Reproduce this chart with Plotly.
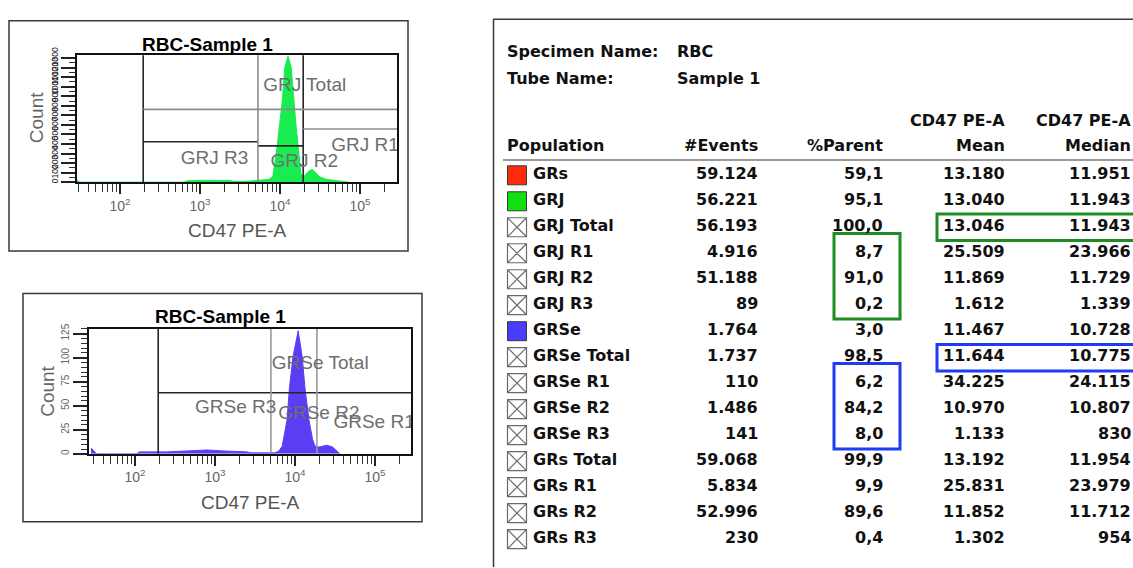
import numpy as np
import plotly.graph_objects as go

W, H = 1133, 568

# ---------------- histogram data (log10 CD47 PE-A vs. count) ----------------
grj_log = [1.45, 1.47, 1.50, 2.80, 2.84, 3.00, 3.15, 3.30, 3.37, 3.42, 3.55, 3.70,
           3.78, 3.86, 3.91, 3.96, 4.00, 4.03, 4.06, 4.10, 4.14, 4.17, 4.20, 4.23,
           4.26, 4.30, 4.35, 4.40, 4.45, 4.50, 4.58, 4.68, 4.80, 4.86]
grj_count = [25, 15, 0, 0, 15, 20, 18, 20, 18, 8, 6, 18,
             25, 30, 60, 350, 640, 865, 1205, 1320, 1205, 865, 600, 350,
             90, 60, 110, 135, 100, 55, 30, 18, 10, 0]

grse_log = [1.45, 1.48, 1.52, 2.02, 2.05, 2.40, 2.70, 2.90, 3.10, 3.40, 3.45, 3.60,
            3.75, 3.80, 3.84, 3.90, 3.93, 3.975, 4.04, 4.09, 4.125, 4.175, 4.22,
            4.25, 4.30, 4.35, 4.40, 4.47, 4.52, 4.56]
grse_count = [6, 3, 0, 0, 2, 2, 3, 4, 3, 2, 1, 1,
              1, 3, 8, 35, 68, 101, 128, 101, 68, 35, 15,
              8, 7, 8, 9, 7, 3, 0]

# gate boundaries on CD47 PE-A and gate heights (count)
grj_gate_x = [195, 5300, 19500]
grj_gate_h = {"GRJ Total": 763, "GRJ R3": 423, "GRJ R2": 381, "GRJ R1": 557}
grse_gate_x = [195, 5000, 18800]
grse_gate_h = 63.5

# ---------------- statistics table ----------------
populations = ["GRs", "GRJ", "GRJ Total", "GRJ R1", "GRJ R2", "GRJ R3", "GRSe",
               "GRSe Total", "GRSe R1", "GRSe R2", "GRSe R3", "GRs Total",
               "GRs R1", "GRs R2", "GRs R3"]
events = [59124, 56221, 56193, 4916, 51188, 89, 1764, 1737, 110, 1486, 141,
          59068, 5834, 52996, 230]
pct_parent = [59.1, 95.1, 100.0, 8.7, 91.0, 0.2, 3.0, 98.5, 6.2, 84.2, 8.0,
              99.9, 9.9, 89.6, 0.4]
cd47_mean = [13180, 13040, 13046, 25509, 11869, 1612, 11467, 11644, 34225,
             10970, 1133, 13192, 25831, 11852, 1302]
cd47_median = [11951, 11943, 11943, 23966, 11729, 1339, 10728, 10775, 24115,
               10807, 830, 11954, 23979, 11712, 954]
icon_kind = ["red", "green", "x", "x", "x", "x", "blue", "x", "x", "x", "x",
             "x", "x", "x", "x"]

GREEN = "#19ec4f"
BLUE = "#5b3df4"
ICON_COL = {"red": "#ff2a0a", "green": "#10e010", "blue": "#4a3cff"}
LABEL_GRAY = "#6e6e6e"
FONT = "Liberation Sans"
TFONT = "DejaVu Sans"


def px(x):
    return x / W


def py(y):
    return 1 - y / H


def eu_int(v):
    return f"{v:,}".replace(",", ".")


def eu_pct(v):
    return f"{v:.1f}".replace(".", ",")


fig = go.Figure()

# ---------------- histograms ----------------
fig.add_trace(go.Scatter(x=10 ** np.array(grj_log), y=grj_count, xaxis="x", yaxis="y",
                         mode="lines", fill="tozeroy", fillcolor=GREEN,
                         line=dict(color=GREEN, width=1), hoverinfo="skip", showlegend=False))
fig.add_trace(go.Scatter(x=10 ** np.array(grse_log), y=grse_count, xaxis="x2", yaxis="y2",
                         mode="lines", fill="tozeroy", fillcolor=BLUE,
                         line=dict(color=BLUE, width=1), hoverinfo="skip", showlegend=False))

XR = 10 ** 5.8  # beyond right edge, clipped by the plot area


def seg_trace(xs, ys, color, width, xa, ya):
    return go.Scatter(x=xs, y=ys, xaxis=xa, yaxis=ya, mode="lines",
                      line=dict(color=color, width=width), hoverinfo="skip", showlegend=False)


# GRJ gates
g0, g1, g2 = grj_gate_x
top1 = 1400
fig.add_trace(seg_trace(
    [g0, g0, None, g2, g2, None, g0, g1, None, g1, g2],
    [0, top1, None, 0, top1, None, grj_gate_h["GRJ R3"], grj_gate_h["GRJ R3"], None,
     grj_gate_h["GRJ R2"], grj_gate_h["GRJ R2"]], "#262626", 1.6, "x", "y"))
fig.add_trace(seg_trace(
    [g1, g1, None, g0, XR, None, g2, XR],
    [0, top1, None, grj_gate_h["GRJ Total"], grj_gate_h["GRJ Total"], None,
     grj_gate_h["GRJ R1"], grj_gate_h["GRJ R1"]], "#8c8c8c", 1.6, "x", "y"))

# GRSe gates
s0, s1, s2 = grse_gate_x
top2 = 140
fig.add_trace(seg_trace([s0, s0, None, s0, XR], [0, top2, None, grse_gate_h, grse_gate_h],
                        "#262626", 1.6, "x2", "y2"))
fig.add_trace(seg_trace([s1, s1, None, s2, s2], [0, top2, None, 0, top2],
                        "#9a9a9a", 1.6, "x2", "y2"))

# gate labels (clipped to the plot area)
fig.add_trace(go.Scatter(
    x=[10 ** 3.79, 10 ** 2.76, 10 ** 3.88, 10 ** 4.64], y=[1000, 237, 206, 381],
    text=["GRJ Total", "GRJ R3", "GRJ R2", "GRJ R1"], mode="text", textposition="middle right",
    textfont=dict(family=FONT, size=19, color=LABEL_GRAY), cliponaxis=True,
    xaxis="x", yaxis="y", hoverinfo="skip", showlegend=False))
fig.add_trace(go.Scatter(
    x=[10 ** 3.71, 10 ** 2.75, 10 ** 3.79, 10 ** 4.48], y=[93, 47, 41, 32],
    text=["GRSe Total", "GRSe R3", "GRSe R2", "GRSe R1"], mode="text", textposition="middle right",
    textfont=dict(family=FONT, size=19, color=LABEL_GRAY), cliponaxis=True,
    xaxis="x2", yaxis="y2", hoverinfo="skip", showlegend=False))

# ---------------- table (pixel-space axis) ----------------
row_y0, row_dy = 170.0, 26.4
row_y = [row_y0 + i * row_dy for i in range(len(populations))]
x_icon, x_name, x_events, x_pct, x_mean, x_median = 517, 531, 760, 885, 1007, 1133
TEXT_DY = -1.5  # text box centre sits slightly below the glyph centre

for kind in ["red", "green", "blue"]:
    idx = [i for i, k in enumerate(icon_kind) if k == kind]
    fig.add_trace(go.Scatter(
        x=[x_icon] * len(idx), y=[row_y[i] for i in idx], xaxis="x3", yaxis="y3",
        mode="markers", marker=dict(symbol="square", size=19, color=ICON_COL[kind],
                                    line=dict(color="#3a3a3a", width=1)),
        hoverinfo="skip", showlegend=False))
idx = [i for i, k in enumerate(icon_kind) if k == "x"]
fig.add_trace(go.Scatter(
    x=[x_icon] * len(idx), y=[row_y[i] for i in idx], xaxis="x3", yaxis="y3",
    mode="markers", marker=dict(symbol="square-x-open", size=19, color="#6a6a6a",
                                line=dict(width=1.2)),
    hoverinfo="skip", showlegend=False))

annotations = []


def tt(text, x, y, anchor, bold=True, size=16, ref="x3"):
    annotations.append(dict(
        text=f"<b>{text}</b>" if bold else text, x=x, y=y + TEXT_DY, xref=ref, yref="y3",
        xanchor=anchor, yanchor="middle", showarrow=False,
        font=dict(family=TFONT, size=size, color="#111111")))


tt("Specimen Name:", 505, 46, "left")
tt("RBC", 675, 46, "left")
tt("Tube Name:", 505, 73, "left")
tt("Sample 1", 675, 73, "left")
tt("CD47 PE-A", x_mean, 116, "right")
tt("CD47 PE-A", x_median, 116, "right")
tt("Population", 505, 141, "left")
tt("#Events", x_events, 141, "right")
tt("%Parent", x_pct, 141, "right")
tt("Mean", x_mean, 141, "right")
tt("Median", x_median, 141, "right")

for i, name in enumerate(populations):
    y = row_y[i]
    tt(name, x_name, y, "left")
    tt(eu_int(events[i]), x_events, y, "right")
    tt(eu_pct(pct_parent[i]), x_pct, y, "right")
    tt(eu_int(cd47_mean[i]), x_mean, y, "right")
    tt(eu_int(cd47_median[i]), x_median, y, "right")

# panel titles and axis titles
for cx, cy in [(207, 37), (220, 313)]:
    annotations.append(dict(text="<b>RBC-Sample 1</b>", x=px(cx), y=py(cy), xref="paper",
                            yref="paper", showarrow=False, xanchor="center", yanchor="middle",
                            font=dict(family=FONT, size=19, color="#000000")))
for cx, cy in [(237, 226), (250, 502)]:
    annotations.append(dict(text="CD47 PE-A", x=px(cx), y=py(cy), xref="paper", yref="paper",
                            showarrow=False, xanchor="center", yanchor="middle",
                            font=dict(family=FONT, size=19, color="#555555")))
for cx, cy in [(36, 112), (48, 390)]:
    annotations.append(dict(text="Count", x=px(cx), y=py(cy), xref="paper", yref="paper",
                            showarrow=False, textangle=-90, xanchor="center", yanchor="middle",
                            font=dict(family=FONT, size=19, color="#666666")))

shapes = []
# frames
for x0, y0, x1, y1 in [(9, 13, 408, 247), (23, 290, 422, 522)]:
    shapes.append(dict(type="rect", xref="paper", yref="paper", x0=px(x0), y0=py(y1),
                       x1=px(x1), y1=py(y0), line=dict(color="#3a3a3a", width=1.5)))
shapes.append(dict(type="line", xref="x3", yref="y3", x0=493, x1=1140, y0=11.5, y1=11.5,
                   line=dict(color="#3a3a3a", width=1.5)))
shapes.append(dict(type="line", xref="x3", yref="y3", x0=493.5, x1=493.5, y0=11.5, y1=570,
                   line=dict(color="#3a3a3a", width=1.5)))
shapes.append(dict(type="line", xref="x3", yref="y3", x0=503, x1=1140, y0=154.5, y1=154.5,
                   line=dict(color="#9a9a9a", width=2)))
# highlight boxes
HG, HB = "#1f8c22", "#1f3cf2"
shapes += [
    dict(type="rect", xref="x3", yref="y3", x0=937, x1=1150, y0=row_y[2] - 13.5,
         y1=row_y[2] + 13.5, line=dict(color=HG, width=3)),
    dict(type="rect", xref="x3", yref="y3", x0=834, x1=900, y0=row_y[3] - 20,
         y1=row_y[5] + 14, line=dict(color=HG, width=3)),
    dict(type="rect", xref="x3", yref="y3", x0=937, x1=1150, y0=row_y[7] - 13,
         y1=row_y[7] + 14, line=dict(color=HB, width=3)),
    dict(type="rect", xref="x3", yref="y3", x0=834, x1=900, y0=row_y[8] - 20,
         y1=row_y[10] + 14, line=dict(color=HB, width=3)),
]

minor_vals = [m * 10 ** e for e in range(1, 6) for m in range(2, 10)]
major_vals = [1e2, 1e3, 1e4, 1e5]
major_text = ["10<sup>2</sup>", "10<sup>3</sup>", "10<sup>4</sup>", "10<sup>5</sup>"]


def xaxis_cfg(dom, rng, anchor):
    return dict(domain=dom, anchor=anchor, type="log", range=rng, showline=True, mirror=True,
                linecolor="#111111", linewidth=1.5, ticks="outside", ticklen=10, tickwidth=2,
                tickcolor="#222222", tickvals=major_vals, ticktext=major_text,
                tickfont=dict(family=FONT, size=14, color="#666666"),
                minor=dict(tickmode="array", tickvals=minor_vals, ticks="outside", ticklen=8,
                           tickwidth=1.2, tickcolor="#333333"),
                showgrid=False, zeroline=False, fixedrange=True)


def yaxis_cfg(dom, rng, anchor, dtick, mdtick, ticklen, fsize, fcolor):
    return dict(domain=dom, anchor=anchor, range=rng, showline=True, mirror=True,
                linecolor="#111111", linewidth=1.5, ticks="outside", ticklen=ticklen,
                tickwidth=1.5, tickcolor="#222222", dtick=dtick, tick0=0, tickangle=-90,
                tickfont=dict(family=FONT, size=fsize, color=fcolor),
                minor=dict(dtick=mdtick, ticks="outside", ticklen=6, tickwidth=1,
                           tickcolor="#333333"),
                showgrid=False, zeroline=False, fixedrange=True)


fig.update_layout(
    width=W, height=H, autosize=False, margin=dict(l=0, r=0, t=0, b=0),
    paper_bgcolor="white", plot_bgcolor="rgba(0,0,0,0)", showlegend=False,
    xaxis=xaxis_cfg([px(77), px(397)], [1.4625, 5.4625], "y"),
    yaxis=yaxis_cfg([py(177), py(48)], [0, 1330], "x", 100, 50, 14, 8.5, "#222222"),
    xaxis2=xaxis_cfg([px(89), px(411)], [1.425, 5.45], "y2"),
    yaxis2=yaxis_cfg([py(453), py(326)], [0, 130], "x2", 25, 5, 14, 10, "#666666"),
    xaxis3=dict(domain=[0, 1], anchor="y3", range=[0, W], visible=False, fixedrange=True),
    yaxis3=dict(domain=[0, 1], anchor="x3", range=[H, 0], visible=False, fixedrange=True),
    annotations=annotations, shapes=shapes,
)

fig.write_html("out.html")
